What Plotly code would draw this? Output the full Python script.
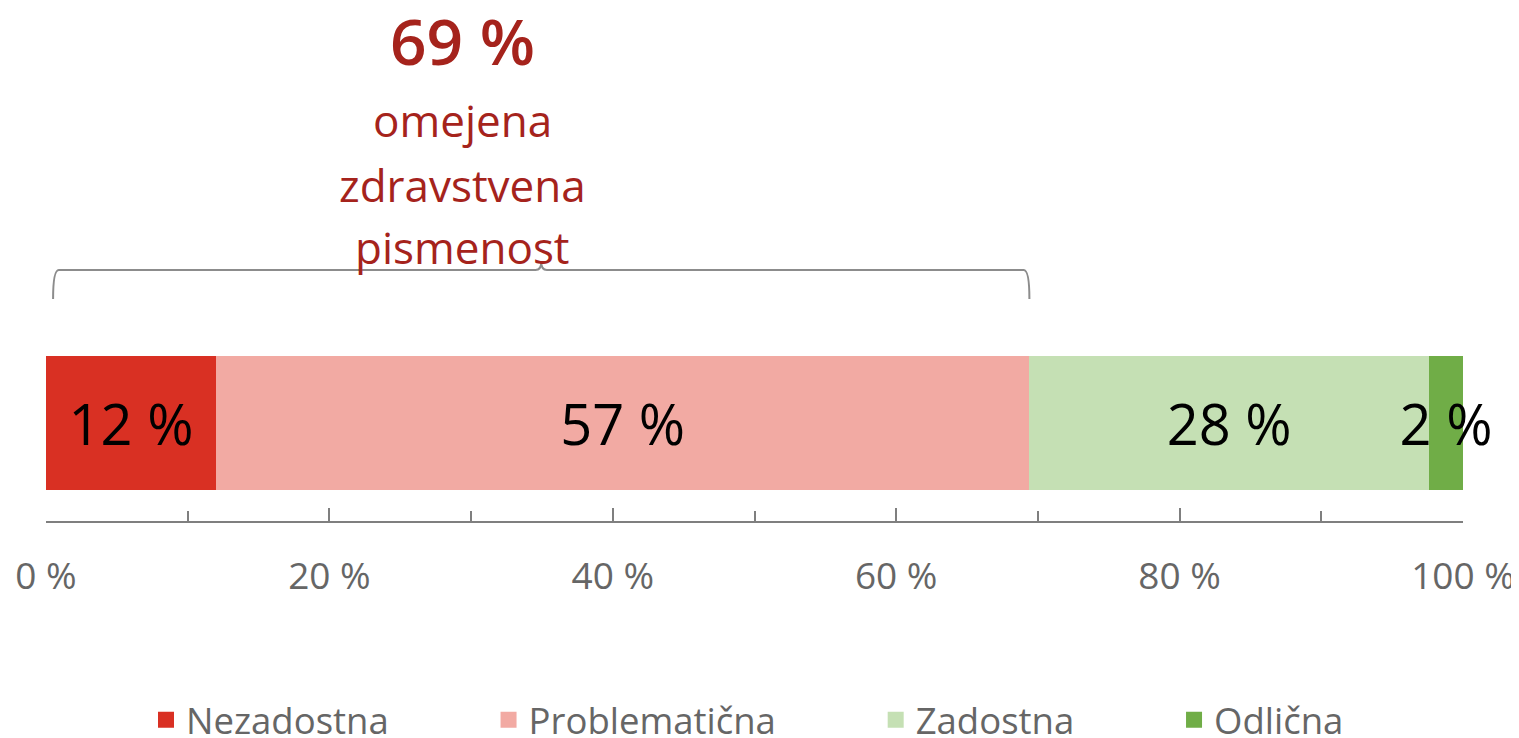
import plotly.graph_objects as go

# shares of respondents by health literacy level (%)
levels = ['Nezadostna', 'Problematična', 'Zadostna', 'Odlična']
shares = [12.0, 57.4, 28.2, 2.4]
labels = ['12 %', '57 %', '28 %', '2 %']
colors = ['#D93023', '#F2AAA3', '#C5E0B4', '#70AD47']

limited_share = '69 %'
limited_lines = ['omejena', 'zdravstvena', 'pismenost']

FONT = 'Open Sans'
DARK_RED = '#A5231C'
PAD = '\u00a0' * 10
LABEL_DY = -0.06  # nudge bar labels to optical centre

# page body adds an 8px offset, so layout pixels are reference - 8
TOP, BOTTOM = 292, 513
H = BOTTOM - TOP


def py(pixel):
    # reference pixel row -> paper y
    return (BOTTOM - (pixel - 8)) / H


fig = go.Figure()

starts = []
acc = 0
for val in shares:
    starts.append(acc)
    acc += val
centers = [s + v / 2 for s, v in zip(starts, shares)]

for name, val, col in zip(levels, shares, colors):
    fig.add_trace(go.Bar(x=[val], y=[0], orientation='h', name=name,
                         marker=dict(color=col, line=dict(width=0)),
                         width=1, showlegend=False))

# legend entries (square swatches)
for i, (name, col) in enumerate(zip(levels, colors)):
    fig.add_trace(go.Scatter(x=[None], y=[None], mode='markers',
                             name=name + (PAD if i < len(levels) - 1 else ''),
                             marker=dict(symbol='square', size=24, color=col)))

# bar value labels
fig.add_trace(go.Scatter(x=centers, y=[LABEL_DY] * len(centers), mode='text',
                         text=labels, showlegend=False, cliponaxis=False,
                         textfont=dict(family=FONT, size=56, color='black'),
                         hoverinfo='skip'))

# brace over the "limited" part (Nezadostna + Problematična)
x0 = 0.5
x1 = shares[0] + shares[1]
mid = (x0 + x1) / 2
yb, yl, yp = py(299), py(270), py(262)
r = 0.4
path = (f'M {x0},{yb} Q {x0},{yl} {x0 + r},{yl} '
        f'L {mid - r},{yl} Q {mid},{yl} {mid},{yp} '
        f'Q {mid},{yl} {mid + r},{yl} L {x1 - r},{yl} '
        f'Q {x1},{yl} {x1},{yb}')
fig.add_shape(type='path', path=path, xref='x', yref='paper',
              line=dict(color='#8C8C8C', width=2))

fig.add_annotation(x=29.4, xref='x', y=py(40), yref='paper',
                   yanchor='middle', text=limited_share, showarrow=False,
                   font=dict(family=FONT, size=64, color=DARK_RED, weight=600))
for line, ypx in zip(limited_lines, [120, 185, 247]):
    fig.add_annotation(x=29.4, xref='x', y=py(ypx), yref='paper',
                       yanchor='middle', text=line, showarrow=False,
                       font=dict(family=FONT, size=44, color=DARK_RED))

fig.update_layout(
    barmode='stack',
    width=1519, height=738,
    margin=dict(l=38, r=64, t=TOP, b=738 - BOTTOM, autoexpand=False),
    plot_bgcolor='white', paper_bgcolor='white',
    font=dict(family=FONT, color='#666666'),
    showlegend=True,
    legend=dict(orientation='h', x=0.5 - 7 / 1417, xanchor='center',
                y=py(720), yanchor='middle',
                font=dict(size=36.5, color='#666666'),
                itemsizing='trace', traceorder='normal'),
)
fig.update_xaxes(range=[0, 100], dtick=20, ticksuffix=' %', automargin=False,
                 showgrid=False, zeroline=False,
                 showline=True, linecolor='#7F7F7F', linewidth=2,
                 ticks='inside', ticklen=13, tickwidth=2, tickcolor='#7F7F7F',
                 minor=dict(dtick=10, ticks='inside', ticklen=10,
                            tickwidth=1.5, tickcolor='#7F7F7F'),
                 tickfont=dict(size=37, color='#666666'),
                 ticklabelstandoff=22)
fig.update_yaxes(range=[-0.731, 0.918], visible=False, automargin=False)

fig.write_html('out.html')
